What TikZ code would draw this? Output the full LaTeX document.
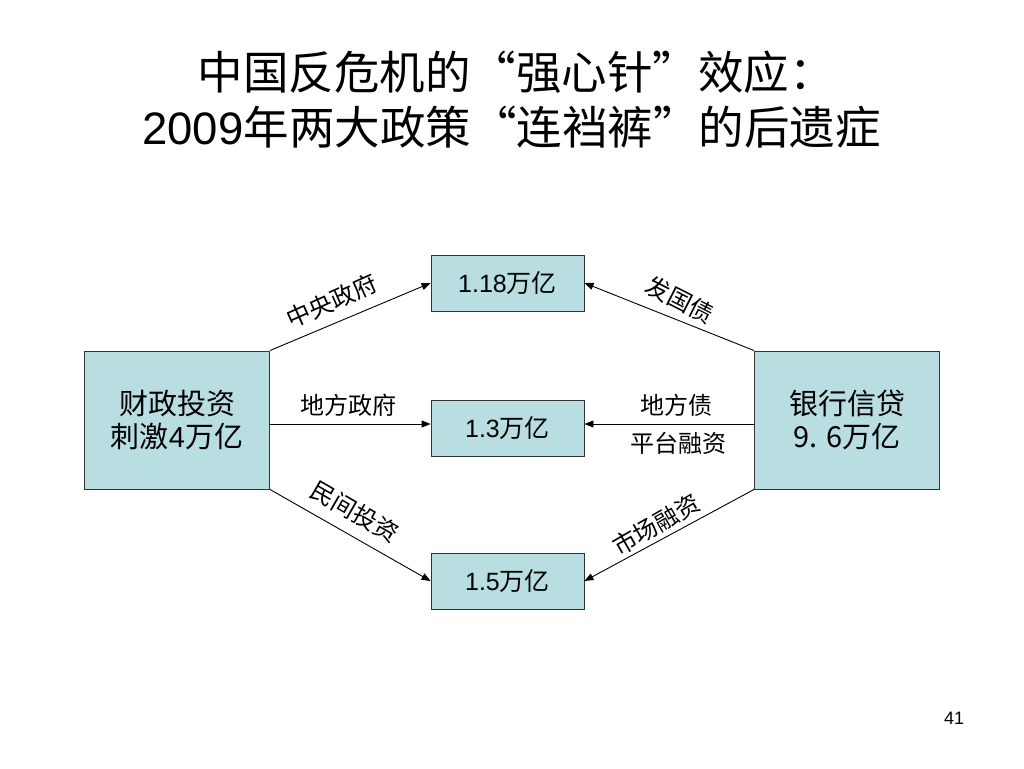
\documentclass[tikz,border=0pt]{standalone}
\usepackage{fontspec}
\setmainfont{Liberation Sans}
\newfontfamily\cjk{Noto Sans CJK SC}
\usetikzlibrary{arrows.meta}
\definecolor{boxfill}{RGB}{184,222,226}
\tikzset{
  box/.style={draw=black!80, line width=0.9pt, fill=boxfill, inner sep=0pt, align=center},
  smallbox/.style={box, minimum width=153pt, minimum height=56pt, font=\fontsize{25}{30}\selectfont},
  bigbox/.style={box, minimum width=185pt, minimum height=138pt, font=\fontsize{29}{33}\selectfont},
  flow/.style={line width=0.9pt, -{Triangle[length=9pt,width=7pt]}},
  lab/.style={font=\cjk\fontsize{24}{28}\selectfont, inner sep=0pt},
  ttl/.style={font=\fontsize{45.5}{55}\selectfont, inner sep=0pt}
}
\begin{document}
\begin{tikzpicture}[x=1pt,y=-1pt]
\useasboundingbox[fill=white] (0,0) rectangle (1024,768);
\node[ttl] (t1) at (516,72) {{\cjk 中国反危机的“强心针”效应：}};
\node[ttl] (t2) at (511.5,127) {2009{\cjk 年两大政策“连裆裤”的后遗症}};
\node[bigbox] (L) at (177,420) {{\cjk 财政投资}\\{\cjk 刺激}4{\cjk 万亿}};
\node[bigbox] (R) at (847,420) {{\cjk 银行信贷}\\{\cjk 9. 6万亿}};
\node[smallbox] (T) at (507.5,283) {1.18{\cjk 万亿}};
\node[smallbox] (M) at (507.5,428) {1.3{\cjk 万亿}};
\node[smallbox] (B) at (507.5,581) {1.5{\cjk 万亿}};
\draw[flow] (L.north east) -- (T.west);
\draw[flow] (R.north west) -- (T.east);
\draw[flow] (L.east |- 0,424) -- (M.west |- 0,424);
\draw[flow] (R.west |- 0,424) -- (M.east |- 0,424);
\draw[flow] (L.south east) -- (B.west);
\draw[flow] (R.south west) -- (B.east);
\node[lab, rotate=24] (l1) at (332,301) {中央政府};
\node[lab, rotate=-27] (l2) at (680,300) {发国债};
\node[lab] (l3) at (348,405) {地方政府};
\node[lab] (l4) at (676,405) {地方债};
\node[lab] (l5) at (678,443) {平台融资};
\node[lab, rotate=-30] (l6) at (355,512) {民间投资};
\node[lab, rotate=30] (l7) at (656,525) {市场融资};
\node[font=\fontsize{18}{20}\selectfont, inner sep=0pt] (pg) at (954,718) {41};
\end{tikzpicture}
\end{document}
